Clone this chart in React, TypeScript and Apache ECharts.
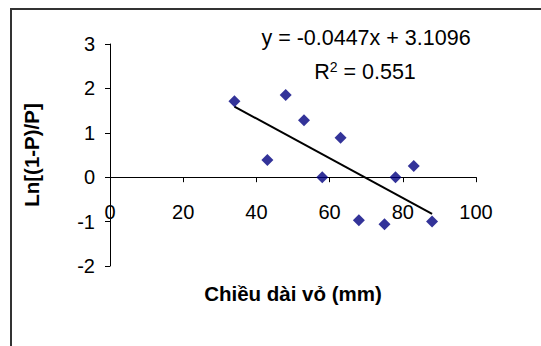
import React, { useEffect, useRef } from "react";
import * as echarts from "echarts";

const lengthMm = [34, 43, 48, 53, 58, 63, 68, 75, 78, 83, 88];
const lnRatio = [1.71, 0.39, 1.85, 1.28, 0, 0.89, -0.97, -1.06, 0, 0.25, -1.0];
const slope = -0.0447;
const intercept = 3.1096;
const rSquared = "0.551";
const xTicks = [0, 20, 40, 60, 80, 100];
const yTicks = [-2, -1, 0, 1, 2, 3];

const FONT = "'Liberation Sans', Arial, sans-serif";

export default function App() {
  const ref = useRef<HTMLDivElement>(null);
  useEffect(() => {
    if (!ref.current) return;
    const chart = echarts.init(ref.current, null, { renderer: "svg" });
    const xMin = Math.min(...lengthMm);
    const xMax = Math.max(...lengthMm);
    const trend = [
      [xMin, slope * xMin + intercept],
      [xMax, slope * xMax + intercept],
    ];
    const gridTop = 44;
    const gridBottom = 80;
    const plotH = 346 - gridTop - gridBottom;
    const yMin = yTicks[0];
    const yMax = yTicks[yTicks.length - 1];
    const zeroOffset = -plotH * (0 - yMin) / (yMax - yMin);
    chart.setOption({
      animation: false,
      backgroundColor: "#ffffff",
      textStyle: { fontFamily: FONT },
      grid: {
        left: 110,
        right: 65,
        top: gridTop,
        bottom: gridBottom,
        containLabel: false,
        outerBoundsMode: "none",
      },
      xAxis: {
        type: "value",
        min: xTicks[0],
        max: xTicks[xTicks.length - 1],
        interval: 20,
        offset: zeroOffset,
        splitLine: { show: false },
        axisLine: { show: true, onZero: false, lineStyle: { color: "#000", width: 1 } },
        axisTick: { show: true, length: 5, lineStyle: { color: "#000" } },
        axisLabel: { color: "#000", fontSize: 20, fontFamily: FONT, margin: 25 },
        name: "Chiều dài vỏ (mm)",
        nameLocation: "middle",
        nameGap: 106,
        nameTextStyle: { color: "#000", fontSize: 20.5, fontWeight: "bold", fontFamily: FONT },
      },
      yAxis: {
        type: "value",
        min: yMin,
        max: yMax,
        interval: 1,
        splitLine: { show: false },
        axisLine: { show: true, onZero: false, lineStyle: { color: "#000", width: 1 } },
        axisTick: { show: true, length: 5, lineStyle: { color: "#000" } },
        axisLabel: { color: "#000", fontSize: 20, fontFamily: FONT, margin: 15 },
        name: "Ln[(1-P)/P]",
        nameLocation: "middle",
        nameGap: 68,
        nameTextStyle: { color: "#000", fontSize: 20.5, fontWeight: "bold", fontFamily: FONT },
      },
      series: [
        {
          type: "line",
          data: trend,
          showSymbol: false,
          symbol: "none",
          lineStyle: { color: "#000", width: 2 },
          z: 2,
        },
        {
          type: "scatter",
          data: lengthMm.map((x, i) => [x, lnRatio[i]]),
          symbol: "diamond",
          symbolSize: [12, 12],
          itemStyle: { color: "#000080" },
          z: 3,
        },
      ],
      graphic: [
        {
          type: "polyline",
          shape: { points: [[11, 346], [11, 9], [541, 9]] },
          style: { stroke: "#333", lineWidth: 2, fill: null },
          silent: true,
        },
        {
          type: "text",
          x: 366,
          y: 38,
          style: {
            text: `y = ${slope}x + ${intercept}`,
            fontSize: 21.5,
            fontFamily: FONT,
            fill: "#000",
            align: "center",
            verticalAlign: "middle",
          },
        },
        {
          type: "text",
          x: 365,
          y: 72,
          style: {
            text: `R{sup|2} = ${rSquared}`,
            fontSize: 21.5,
            fontFamily: FONT,
            fill: "#000",
            align: "center",
            verticalAlign: "middle",
            rich: {
              sup: { fontSize: 14, fontFamily: FONT, fill: "#000", verticalAlign: "top", padding: [0, 0, 11, 0] },
            },
          },
        },
      ],
    });
    return () => chart.dispose();
  }, []);
  return <div ref={ref} style={{ width: 541, height: 346, position: "absolute", left: 0, top: 0 }} />;
}
